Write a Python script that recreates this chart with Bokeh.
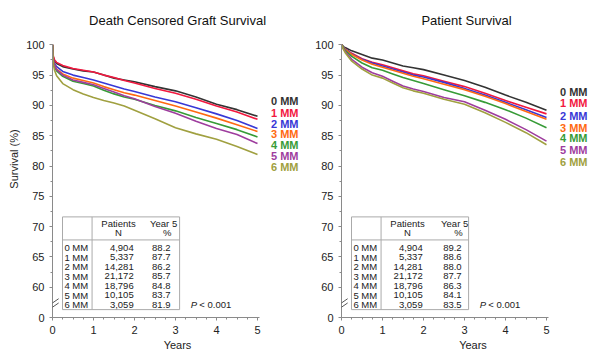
from bokeh.plotting import figure
from bokeh.layouts import row
from bokeh.models import FixedTicker, Range1d, Arrow
from bokeh.core.properties import value
from bokeh.embed import file_html
from bokeh.resources import INLINE

# ---------------- data ----------------
years = [0, 0.02, 0.05, 0.1, 0.25, 0.5, 0.75, 1, 1.25, 1.5, 1.75, 2, 2.5, 3, 3.5, 4, 4.5, 5]
groups = ["0 MM", "1 MM", "2 MM", "3 MM", "4 MM", "5 MM", "6 MM"]

# Death censored graft survival (%)
graft_0mm = [100, 98.0, 97.3, 96.9, 96.4, 96.0, 95.7, 95.5, 95.0, 94.5, 94.2, 93.9, 93.1, 92.4, 91.4, 90.2, 89.3, 88.2]
graft_1mm = [100, 98.1, 97.5, 97.1, 96.6, 96.1, 95.8, 95.5, 95.0, 94.6, 94.1, 93.7, 92.8, 92.0, 91.0, 89.9, 88.9, 87.7]
graft_2mm = [100, 97.6, 96.9, 96.4, 95.6, 95.0, 94.6, 94.2, 93.7, 93.2, 92.7, 92.3, 91.4, 90.6, 89.6, 88.6, 87.5, 86.2]
graft_3mm = [100, 97.4, 96.6, 96.0, 95.2, 94.5, 94.1, 93.7, 93.1, 92.6, 92.1, 91.7, 90.8, 89.9, 88.9, 87.9, 86.8, 85.7]
graft_4mm = [100, 97.2, 96.3, 95.7, 94.8, 94.0, 93.6, 93.2, 92.5, 91.9, 91.4, 91.0, 90.0, 89.1, 88.0, 87.0, 86.0, 84.8]
graft_5mm = [100, 97.3, 96.5, 95.9, 95.0, 94.2, 93.8, 93.4, 92.8, 92.2, 91.6, 91.1, 89.8, 88.7, 87.4, 86.2, 85.2, 83.7]
graft_6mm = [100, 96.8, 95.8, 94.9, 93.6, 92.6, 91.9, 91.3, 90.8, 90.4, 89.9, 89.2, 87.8, 86.3, 85.3, 84.4, 83.2, 81.9]

# Patient survival (%)
patient_0mm = [100, 99.9, 99.7, 99.5, 99.0, 98.4, 97.8, 97.5, 97.0, 96.5, 96.2, 95.9, 95.0, 94.1, 93.0, 91.7, 90.5, 89.2]
patient_1mm = [100, 99.8, 99.6, 99.3, 98.6, 97.7, 97.1, 96.7, 96.2, 95.7, 95.2, 94.9, 94.0, 93.1, 92.0, 90.8, 89.7, 88.6]
patient_2mm = [100, 99.8, 99.6, 99.3, 98.5, 97.6, 97.0, 96.5, 96.0, 95.5, 95.0, 94.7, 93.8, 92.8, 91.7, 90.5, 89.3, 88.0]
patient_3mm = [100, 99.8, 99.5, 99.2, 98.4, 97.5, 96.8, 96.3, 95.8, 95.3, 94.8, 94.4, 93.5, 92.6, 91.5, 90.3, 89.0, 87.7]
patient_4mm = [100, 99.8, 99.5, 99.0, 98.1, 97.0, 96.2, 95.8, 95.2, 94.6, 94.1, 93.6, 92.6, 91.6, 90.5, 89.3, 87.9, 86.3]
patient_5mm = [100, 99.7, 99.3, 98.8, 97.6, 96.3, 95.4, 94.8, 94.0, 93.2, 92.7, 92.3, 91.3, 90.6, 89.2, 87.7, 86.0, 84.1]
patient_6mm = [100, 99.7, 99.2, 98.6, 97.3, 96.0, 95.0, 94.5, 93.7, 92.9, 92.4, 92.0, 91.0, 90.2, 88.8, 87.2, 85.5, 83.5]

patients_n = ["4,904", "5,337", "14,281", "21,172", "18,796", "10,105", "3,059"]
graft_year5 = ["88.2", "87.7", "86.2", "85.7", "84.8", "83.7", "81.9"]
patient_year5 = ["89.2", "88.6", "88.0", "87.7", "86.3", "84.1", "83.5"]

y_ticks = [55, 60, 65, 70, 75, 80, 85, 90, 95, 100]
y_tick_labels = {55: "0"}
x_ticks = [0, 1, 2, 3, 4, 5]

# ---------------- styles / layout ----------------
colors = ["#333333", "#f2183f", "#3838d6", "#ff6a12", "#379b37", "#9e3d9e", "#a0a040"]
FONT = "Liberation Sans"
PX_PER_UNIT = 6.06
PX_PER_YEAR = 41.0
FIG_H = 360
BOTTOM = 43


def make_panel(title, series, year5, left_border, width, label_ys, year5_x,
               show_ylabel):
    frame_w = width - left_border
    frame_h = FIG_H - BOTTOM
    p = figure(width=width, height=FIG_H,
               x_range=Range1d(0, frame_w / PX_PER_YEAR),
               y_range=Range1d(55, 55 + frame_h / PX_PER_UNIT),
               output_backend="svg", toolbar_location=None,
               min_border_left=left_border, min_border_right=0,
               min_border_top=0, min_border_bottom=BOTTOM)
    p.outline_line_color = None
    p.grid.visible = False
    p.background_fill_color = "white"
    p.border_fill_color = "white"

    # axes
    p.xaxis.bounds = (0, 5.05)
    p.yaxis.bounds = (55, 100)
    p.xaxis.ticker = FixedTicker(ticks=x_ticks, minor_ticks=[i * 0.25 for i in range(21)])
    p.yaxis.ticker = FixedTicker(ticks=y_ticks, minor_ticks=[60 + 2.5 * i for i in range(17)])
    p.yaxis.major_label_overrides = y_tick_labels
    for ax in (p.xaxis[0], p.yaxis[0]):
        ax.axis_line_color = "#8a8a8a"
        ax.major_tick_line_color = "#8a8a8a"
        ax.minor_tick_line_color = "#8a8a8a"
        ax.major_tick_out = 3
        ax.major_tick_in = 0
        ax.minor_tick_out = 2
        ax.minor_tick_in = 0
        ax.major_label_text_font = FONT
        ax.major_label_text_font_size = "11px"
        ax.major_label_text_color = "#222222"
        ax.axis_label_text_font = FONT
        ax.axis_label_text_font_size = "11px"
        ax.axis_label_text_font_style = "normal"
        ax.axis_label_text_color = "#222222"
    p.yaxis.major_label_standoff = 5
    p.xaxis.major_label_standoff = 5
    p.xaxis.axis_label = "Years"
    p.xaxis.axis_label_standoff = 2
    if show_ylabel:
        p.yaxis.axis_label = "Survival (%)"
        p.yaxis.axis_label_standoff = 3

    # axis break marks
    for dy in (0.0, 0.7):
        p.add_layout(Arrow(end=None, x_start=-0.15, y_start=56.0 + dy,
                           x_end=0.15, y_end=57.4 + dy,
                           line_color="#555555", line_width=1))

    # title
    p.text(x=[3.05], y=[104.0], text=[title], text_font=value(FONT),
           text_font_size="13px", text_align="center", text_baseline="middle",
           text_color="#111111")

    # curves
    for vals, col in zip(series, colors):
        p.line(years, vals, line_color=col, line_width=1.6)

    # curve labels
    p.text(x=[5.33] * len(groups), y=label_ys, text=groups, text_color=colors,
           text_font=value(FONT), text_font_size="11px",
           text_font_style="bold", text_align="left", text_baseline="middle")

    # table box
    box_l, box_r, box_b, box_t = 0.244, 3.10, 56.3, 71.6
    p.quad(left=[box_l], right=[box_r], bottom=[box_b], top=[box_t],
           fill_color="white", line_color="#aaaaaa", line_width=1)
    p.segment(x0=[0.965, box_l], y0=[box_b, 67.8], x1=[0.965, box_r], y1=[box_t, 67.8],
              line_color="#aaaaaa", line_width=1)
    tf = dict(text_font=value(FONT), text_font_size="9.5px", text_color="#222222",
              text_baseline="middle")
    p.text(x=[1.61, 1.61], y=[70.46, 68.98], text=["Patients", "N"],
           text_align="center", **tf)
    p.text(x=[year5_x - 0.17, year5_x - 0.08], y=[70.46, 68.98], text=["Year 5", "%"],
           text_align="center", **tf)
    row_y = [66.5 - 1.568 * i for i in range(len(groups))]
    p.text(x=[0.29] * len(groups), y=row_y, text=groups, text_align="left", **tf)
    p.text(x=[1.98] * len(groups), y=row_y, text=patients_n, text_align="right", **tf)
    p.text(x=[year5_x] * len(groups), y=row_y, text=year5, text_align="right", **tf)
    p.text(x=[3.37], y=[row_y[-1]], text=["P"], text_align="left",
           text_font_style="italic", **tf)
    p.text(x=[3.58], y=[row_y[-1]], text=["< 0.001"], text_align="left", **tf)
    return p


graft_series = [graft_0mm, graft_1mm, graft_2mm, graft_3mm, graft_4mm, graft_5mm, graft_6mm]
patient_series = [patient_0mm, patient_1mm, patient_2mm, patient_3mm, patient_4mm,
                  patient_5mm, patient_6mm]

p1 = make_panel("Death Censored Graft Survival", graft_series, graft_year5, 52, 302,
                [90.76, 88.73, 87.01, 85.26, 83.5, 81.73, 79.87], 2.88, True)
p2 = make_panel("Patient Survival", patient_series, patient_year5, 39, 302,
                [92.29, 90.43, 88.28, 86.35, 84.65, 82.72, 80.58], 2.93, False)

layout = row(p1, p2)
open("out.html", "w").write(file_html(layout, INLINE))
